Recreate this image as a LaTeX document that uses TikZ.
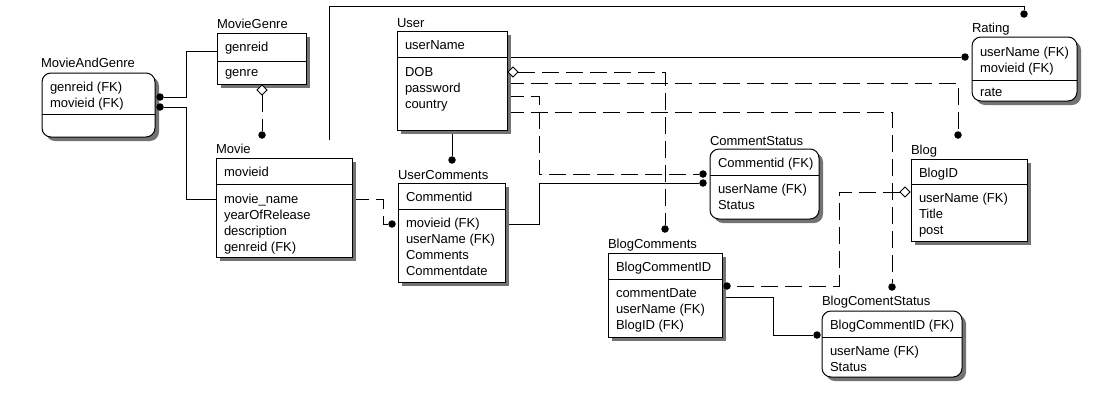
\documentclass[tikz,border=0pt]{standalone}
\usepackage{fontspec}
\setmainfont{Liberation Sans}
\usetikzlibrary{shapes.geometric,shadows}
\pgfdeclarelayer{links}
\pgfsetlayers{links,main}
\begin{document}
\begin{tikzpicture}[x=1pt,y=-1pt,
  font=\fontsize{13pt}{15pt}\selectfont,
  every node/.style={inner sep=0pt, outer sep=0pt},
  entity/.style={draw, fill=white, line width=1pt, anchor=north west,
    general shadow={fill=black!55, shadow xshift=4pt, shadow yshift=-4pt}},
  rentity/.style={entity, rounded corners=9pt},
  ttl/.style={anchor=base west},
  fld/.style={anchor=base west},
  sep/.style={line width=1pt},
  dot/.style={circle, fill=black, minimum size=7.5pt},
  dia/.style={diamond, draw, fill=white, line width=0.9pt, minimum size=10pt, aspect=1},
  rel/.style={line width=1pt},
  nrel/.style={rel, dash pattern=on 17pt off 7pt}]

\useasboundingbox (0,0) rectangle (1094,416);

% ---------- entities ----------
% MovieAndGenre
\node[rentity, minimum width=113pt, minimum height=64pt] (mag) at (42,73) {};
\draw[sep] (mag.west |- 0,114) -- (mag.east |- 0,114);
\node[ttl] (mag-t) at (41,67) {MovieAndGenre};
\node[fld] (mag-1) at (50,91) {genreid (FK)};
\node[fld] (mag-2) at (50,107) {movieid (FK)};

% MovieGenre
\node[entity, minimum width=89pt, minimum height=51pt] (mg) at (217,33) {};
\draw[sep] (mg.west |- 0,61) -- (mg.east |- 0,61);
\node[ttl] (mg-t) at (217,28) {MovieGenre};
\node[fld] (mg-1) at (225,51) {genreid};
\node[fld] (mg-2) at (225,76) {genre};

% Movie
\node[entity, minimum width=136pt, minimum height=99pt] (movie) at (216,158) {};
\draw[sep] (movie.west |- 0,184) -- (movie.east |- 0,184);
\node[ttl] (movie-t) at (216,153) {Movie};
\node[fld] (movie-1) at (224,176) {movieid};
\node[fld] (movie-2) at (224,203) {movie\_name};
\node[fld] (movie-3) at (224,219) {yearOfRelease};
\node[fld] (movie-4) at (224,235) {description};
\node[fld] (movie-5) at (224,251) {genreid (FK)};

% User
\node[entity, minimum width=110pt, minimum height=99pt] (user) at (397,31) {};
\draw[sep] (user.west |- 0,57) -- (user.east |- 0,57);
\node[ttl] (user-t) at (397,27) {User};
\node[fld] (user-1) at (405,49) {userName};
\node[fld] (user-2) at (405,76) {DOB};
\node[fld] (user-3) at (405,92) {password};
\node[fld] (user-4) at (405,108) {country};

% UserComments
\node[entity, minimum width=107pt, minimum height=99pt] (uc) at (398,183) {};
\draw[sep] (uc.west |- 0,209) -- (uc.east |- 0,209);
\node[ttl] (uc-t) at (398,179) {UserComments};
\node[fld] (uc-1) at (406,201) {Commentid};
\node[fld] (uc-2) at (406,227) {movieid (FK)};
\node[fld] (uc-3) at (406,243) {userName (FK)};
\node[fld] (uc-4) at (406,259) {Comments};
\node[fld] (uc-5) at (406,275) {Commentdate};

% CommentStatus
\node[rentity, minimum width=109pt, minimum height=70pt] (cs) at (710,149) {};
\draw[sep] (cs.west |- 0,175) -- (cs.east |- 0,175);
\node[ttl] (cs-t) at (710,145) {CommentStatus};
\node[fld] (cs-1) at (718,167) {Commentid (FK)};
\node[fld] (cs-2) at (718,193) {userName (FK)};
\node[fld] (cs-3) at (718,209) {Status};

% Blog
\node[entity, minimum width=116pt, minimum height=82pt] (blog) at (911,159) {};
\draw[sep] (blog.west |- 0,184) -- (blog.east |- 0,184);
\node[ttl] (blog-t) at (911,154) {Blog};
\node[fld] (blog-1) at (919,177) {BlogID};
\node[fld] (blog-2) at (919,202) {userName (FK)};
\node[fld] (blog-3) at (919,218) {Title};
\node[fld] (blog-4) at (919,234) {post};

% BlogComments
\node[entity, minimum width=114pt, minimum height=84pt] (bc) at (608,253) {};
\draw[sep] (bc.west |- 0,279) -- (bc.east |- 0,279);
\node[ttl] (bc-t) at (608,248) {BlogComments};
\node[fld] (bc-1) at (616,271) {BlogCommentID};
\node[fld] (bc-2) at (616,297) {commentDate};
\node[fld] (bc-3) at (616,313) {userName (FK)};
\node[fld] (bc-4) at (616,329) {BlogID (FK)};

% BlogComentStatus
\node[rentity, minimum width=140pt, minimum height=66pt] (bcs) at (822,311) {};
\draw[sep] (bcs.west |- 0,337) -- (bcs.east |- 0,337);
\node[ttl] (bcs-t) at (822,305) {BlogComentStatus};
\node[fld] (bcs-1) at (830,329) {BlogCommentID (FK)};
\node[fld] (bcs-2) at (830,355) {userName (FK)};
\node[fld] (bcs-3) at (830,371) {Status};

% Rating
\node[rentity, minimum width=105pt, minimum height=64pt] (rat) at (972,37) {};
\draw[sep] (rat.west |- 0,80) -- (rat.east |- 0,80);
\node[ttl] (rat-t) at (972,32) {Rating};
\node[fld] (rat-1) at (980,56) {userName (FK)};
\node[fld] (rat-2) at (980,72) {movieid (FK)};
\node[fld] (rat-3) at (980,96) {rate};

% ---------- relationship ends ----------
\node[dot] (d-mag-g) at (160,97) {};
\node[dot] (d-mag-m) at (160,107) {};
\node[dia] (k-mg) at (262,90) {};
\node[dot] (d-mov) at (262,135) {};
\node[dot] (d-rat-m) at (1024,14) {};
\node[dot] (d-rat-u) at (965,57) {};
\node[dia] (k-usr) at (513,72) {};
\node[dot] (d-bc-u) at (665,229) {};
\node[dot] (d-blog) at (958,135) {};
\node[dot] (d-cs-u) at (703,174) {};
\node[dot] (d-cs-c) at (703,183) {};
\node[dot] (d-bcs-u) at (892,287) {};
\node[dot] (d-uc-u) at (452,160) {};
\node[dot] (d-uc-m) at (392,224) {};
\node[dia] (k-blog) at (905,192) {};
\node[dot] (d-bc-b) at (727,286) {};
\node[dot] (d-bcs-b) at (817,335) {};
\coordinate (m-up) at (329,140);

% ---------- relationship lines ----------
\begin{pgfonlayer}{links}
\fill[white] (0,0) rectangle (1094,416);
\draw[rel] (mg.west |- 0,51) -| (186,97) -- (d-mag-g);
\draw[rel] (movie.west |- 0,199) -| (186,107) -- (d-mag-m);
\draw[nrel] (k-mg) -- (d-mov);
\draw[rel] (m-up) |- (1024,6) -- (d-rat-m);
\draw[rel] (user.east |- 0,57) -- (d-rat-u);
\draw[nrel] (k-usr) -| (d-bc-u);
\draw[nrel] (user.east |- 0,83) -| (d-blog);
\draw[nrel] (user.east |- 0,96) -| (539,174) -- (d-cs-u);
\draw[nrel] (user.east |- 0,112) -| (d-bcs-u);
\draw[rel] (user.south -| d-uc-u) -- (d-uc-u);
\draw[nrel] (movie.east |- 0,199) -| (383,224) -- (d-uc-m);
\draw[rel] (uc.east |- 0,224) -| (539,183) -- (d-cs-c);
\draw[nrel] (k-blog) -| (839,286) -- (d-bc-b);
\draw[rel] (bc.east |- 0,297) -| (773,335) -- (d-bcs-b);
\end{pgfonlayer}
\end{tikzpicture}
\end{document}
